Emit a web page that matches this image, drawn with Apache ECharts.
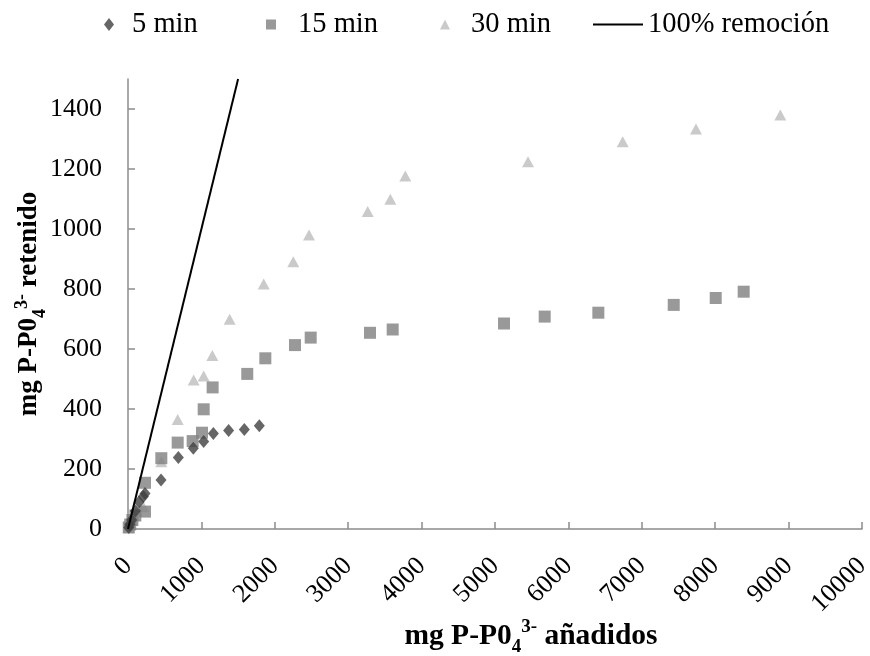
<!DOCTYPE html>
<html>
<head>
<meta charset="utf-8">
<script src="https://cdn.jsdelivr.net/npm/echarts@6/dist/echarts.min.js"></script>
<style>html,body{margin:0;padding:0;background:#fff}#c{width:870px;height:656px}</style>
</head>
<body>
<div id="c"></div>
<script>
const seriesNames = ['5 min', '15 min', '30 min', '100% remoción'];
const data5 = [[10,5],[25,15],[50,30],[100,60],[150,90],[209,108],[232,118],[450,163],[686,238],[890,269],[1031,292],[1163,318],[1371,328],[1585,332],[1789,344]];
const data15 = [[10,5],[30,15],[60,30],[100,45],[232,58],[232,154],[454,236],[677,288],[881,293],[1008,321],[1031,399],[1153,472],[1625,517],[1871,569],[2275,613],[2489,638],[3297,654],[3606,665],[5123,685],[5677,708],[6408,721],[7435,747],[8007,770],[8388,791]];
const data30 = [[10,5],[30,15],[50,30],[80,45],[120,60],[209,74],[454,224],[677,365],[895,497],[1031,510],[1149,578],[1385,699],[1849,817],[2252,891],[2466,980],[3266,1058],[3574,1099],[3778,1177],[5450,1224],[6740,1291],[7738,1333],[8887,1380]];
const dataLine = [[0,0],[1500,1500]];
const yTicks = [0,200,400,600,800,1000,1200,1400];

const FONT = '"Liberation Serif", "Times New Roman", serif';
const COLORS = ['#404040', '#808080', '#bdbdbd', '#000000'];
const chart = echarts.init(document.getElementById('c'), null, {renderer:'canvas'});
function mkRich(fs, ss) {
  const lh = Math.round(fs * 1.2);
  return {
    b: {fontFamily: FONT, fontWeight: 'bold', fontSize: fs, color: '#000', lineHeight: lh, verticalAlign: 'bottom'},
    sub: {fontFamily: FONT, fontWeight: 'bold', fontSize: ss, color: '#000', lineHeight: lh, verticalAlign: 'bottom', padding: [0,0,-6,0]},
    sup: {fontFamily: FONT, fontWeight: 'bold', fontSize: ss, color: '#000', lineHeight: lh, verticalAlign: 'top', padding: [2,0,0,0]}
  };
}
const legendText = {fontFamily: FONT, fontSize: 28.5, color: '#000'};
function mkLegend(i, left, icon, w, h, pad) {
  return {
    top: 5, left: left, itemWidth: w, itemHeight: h, selectedMode: false,
    textStyle: Object.assign({padding: [0, 0, 0, pad]}, legendText),
    data: [{name: seriesNames[i], icon: icon, itemStyle: {color: COLORS[i], borderWidth: 0}}]
  };
}
chart.setOption({
  animation: false,
  backgroundColor: '#fff',
  legend: [
    mkLegend(0, 99, 'diamond', 10, 13, 13),
    mkLegend(1, 261, 'rect', 10, 10, 17),
    mkLegend(2, 435, 'triangle', 10, 10, 16),
    mkLegend(3, 588, 'rect', 50, 2, 0)
  ],
  grid: {left: 128, right: 8, top: 79, bottom: 127, containLabel: false, outerBoundsMode: 'none'},
  xAxis: {
    type: 'value', min: 0, max: 10000, interval: 1000,
    name: '{b|mg P-P0}{sub|4}{sup|3-}{b| añadidos}',
    nameLocation: 'middle', nameGap: 87, nameMoveOverlap: false,
    nameTextStyle: {rich: mkRich(29.5, 19), padding: [0, 0, 0, 72]},
    axisLine: {lineStyle: {color: '#8c8c8c', width: 1.5}},
    axisTick: {inside: true, length: 7, lineStyle: {color: '#8c8c8c', width: 1.5}},
    axisLabel: {rotate: 45, margin: 33, fontFamily: FONT, fontSize: 26, color: '#000', showMaxLabel: true, showMinLabel: true, formatter: v => String(v)},
    splitLine: {show: false}
  },
  yAxis: {
    type: 'value', min: 0, max: 1500, interval: 200,
    name: '{b|mg P-P0}{sub|4}{sup|3-}{b| retenido}',
    nameLocation: 'middle', nameGap: 85, nameRotate: 90, nameMoveOverlap: false,
    nameTextStyle: {rich: mkRich(27, 18)},
    axisLine: {show: true, lineStyle: {color: '#8c8c8c', width: 1.5}},
    axisTick: {show: true, inside: true, length: 7, customValues: yTicks, lineStyle: {color: '#8c8c8c', width: 1.5}},
    axisLabel: {customValues: yTicks, margin: 26, fontFamily: FONT, fontSize: 26, color: '#000', formatter: v => String(v)},
    splitLine: {show: false}
  },
  series: [
    {name: seriesNames[0], type: 'scatter', data: data5, symbol: 'diamond', symbolSize: [11, 13], itemStyle: {color: COLORS[0]}, z: 4},
    {name: seriesNames[1], type: 'scatter', data: data15, symbol: 'rect', symbolSize: 12, itemStyle: {color: COLORS[1]}, z: 3},
    {name: seriesNames[2], type: 'scatter', data: data30, symbol: 'triangle', symbolSize: [12, 11], itemStyle: {color: COLORS[2]}, z: 2},
    {name: seriesNames[3], type: 'line', data: dataLine, symbol: 'none', lineStyle: {color: COLORS[3], width: 2}, itemStyle: {color: COLORS[3]}, z: 5}
  ]
});
</script>
</body>
</html>
